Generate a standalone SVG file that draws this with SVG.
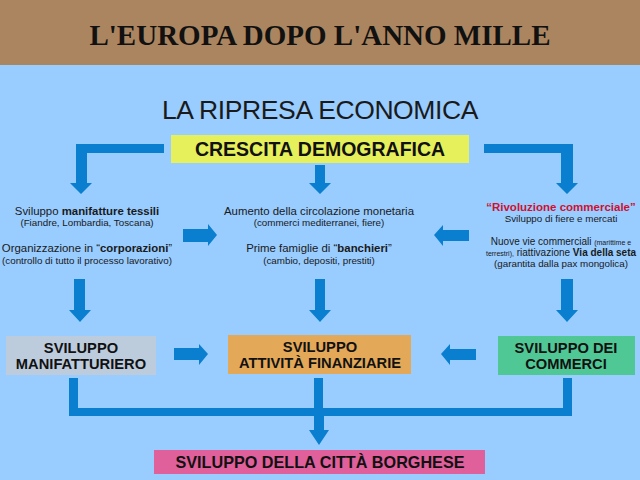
<svg xmlns="http://www.w3.org/2000/svg" width="640" height="480" viewBox="0 0 640 480">
<style>
text{font-family:"Liberation Sans",Arial,sans-serif;text-anchor:middle;fill:#1a1a1a}
.a{fill:#0a7fd0}
.m{font-size:11.4px}
.r{font-size:10px}
.s{font-size:9.8px}
.t{font-size:7px}
.n{font-size:14.7px;font-weight:bold;fill:#111}
.b{font-weight:bold}
</style>
<rect width="640" height="480" fill="#99ccff"/>
<g id="header"><rect width="640" height="65" fill="#ab855f"/>
<text x="320" y="45" style="font-family:'Liberation Serif',serif;font-size:29px;font-weight:bold;fill:#111">L'EUROPA DOPO L'ANNO MILLE</text></g>
<text id="subtitle" x="320" y="119" style="font-size:26.5px;letter-spacing:-.4px">LA RIPRESA ECONOMICA</text>
<g id="crescita"><rect x="171" y="135" width="298" height="28" fill="#e6f05a"/><text x="320" y="156" style="font-size:19.5px;font-weight:bold;fill:#111">CRESCITA DEMOGRAFICA</text></g>
<g id="connectors">
<path class="a" d="M164 144H76V183H70L81 194L92 183H87V153H164Z"/>
<path class="a" d="M484 144H573V183H578L567 194L556 183H561V153H484Z"/>
<path class="a" d="M315 165H325V183H331L320 194L309 183H315Z"/>
<path class="a" d="M183 229H208V224L217 235L208 246V242H183Z"/>
<path class="a" d="M469 230H443V225L434 235L443 246V241H469Z"/>
<path class="a" d="M74 279H85V310H91L80 322L69 310H74Z"/>
<path class="a" d="M315 279H325V310H331L320 322L309 310H315Z"/>
<path class="a" d="M561 279H573V310H578L567 322L556 310H561Z"/>
<path class="a" d="M174 348H199V344L208 354L199 365V360H174Z"/>
<path class="a" d="M476 349H450V344L441 354L450 365V360H476Z"/>
<path class="a" d="M69 378H78V408H314V378H323V408H563V378H572V416H324V430H329L319 445L309 430H314V416H69Z"/>
</g>
<g id="col-left">
<text class="m" x="87" y="215">Sviluppo <tspan class="b">manifatture tessili</tspan></text>
<text class="s" x="87" y="226">(Fiandre, Lombardia, Toscana)</text>
<text class="m" x="87" y="252">Organizzazione in “<tspan class="b">corporazioni</tspan>”</text>
<text class="s" x="87" y="264">(controllo di tutto il processo lavorativo)</text>
</g>
<g id="col-center">
<text class="m" x="319" y="215">Aumento della circolazione monetaria</text>
<text class="s" x="319" y="226">(commerci mediterranei, fiere)</text>
<text class="m" x="319" y="252">Prime famiglie di “<tspan class="b">banchieri</tspan>”</text>
<text class="s" x="319" y="264">(cambio, depositi, prestiti)</text>
</g>
<g id="col-right">
<text x="561" y="211" style="font-size:11.5px;font-weight:bold;fill:#d01030">“Rivoluzione commerciale”</text>
<text class="s" x="561" y="222">Sviluppo di fiere e mercati</text>
<text class="r" x="561" y="245">Nuove vie commerciali <tspan class="t">(marittime e</tspan></text>
<text class="r" x="561" y="256"><tspan class="t">terrestri),</tspan> riattivazione <tspan class="b">Via della seta</tspan></text>
<text class="s" x="561" y="267">(garantita dalla pax mongolica)</text>
</g>
<g id="manifatturiero"><rect x="6" y="336" width="150" height="39" fill="#bcccdc"/><text class="n" x="81" y="353">SVILUPPO</text><text class="n" x="81" y="369">MANIFATTURIERO</text></g>
<g id="finanziarie"><rect x="228" y="335" width="183" height="39" fill="#e3a858"/><text class="n" x="320" y="352">SVILUPPO</text><text class="n" x="320" y="368">ATTIVITÀ FINANZIARIE</text></g>
<g id="commerci"><rect x="498" y="336" width="137" height="39" fill="#50c896"/><text class="n" x="566" y="353">SVILUPPO DEI</text><text class="n" x="566" y="369">COMMERCI</text></g>
<g id="citta"><rect x="154" y="450" width="331" height="24" fill="#e0609c"/><text x="320" y="468" style="font-size:16.2px;font-weight:bold;fill:#111">SVILUPPO DELLA CITTÀ BORGHESE</text></g>
</svg>
